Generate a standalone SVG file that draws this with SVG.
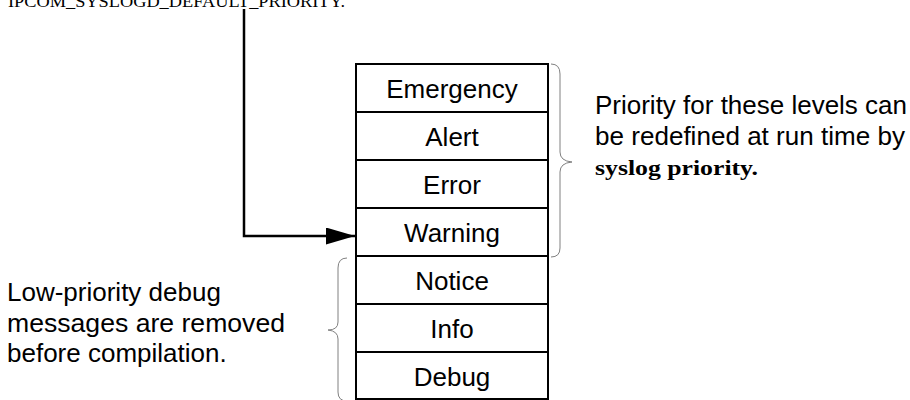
<svg xmlns="http://www.w3.org/2000/svg" width="910" height="400" viewBox="0 0 910 400">
  <defs>
    <style>
      .sans { font-family: "Liberation Sans", Arial, sans-serif; font-size: 26px; fill: #000; }
      .cell { text-anchor: middle; }
      .serif { font-family: "Liberation Serif", "Times New Roman", serif; fill: #000; }
      .box { fill: #fff; stroke: #000; stroke-width: 2; }
      .brace { fill: none; stroke: #808080; stroke-width: 1; }
      .conn { fill: none; stroke: #000; stroke-width: 2.5; }
    </style>
    <marker id="arrow" markerWidth="30" markerHeight="18" refX="29" refY="8.5" orient="auto" markerUnits="userSpaceOnUse">
      <path d="M0,0 L29,8.5 L0,17 Z" fill="#000"/>
    </marker>
  </defs>
  <rect width="910" height="400" fill="#fff"/>

  <g id="title">
    <text class="serif" x="8" y="7" font-size="17" textLength="337" lengthAdjust="spacingAndGlyphs">IPCOM_SYSLOGD_DEFAULT_PRIORITY.</text>
  </g>

  <g id="connectors">
    <path class="conn" d="M244,9 L244,236 L355,236" marker-end="url(#arrow)"/>
  </g>

  <g id="node-emergency">
    <rect class="box" x="356" y="64" width="192" height="48"/>
    <text class="sans cell" x="452" y="98">Emergency</text>
  </g>
  <g id="node-alert">
    <rect class="box" x="356" y="112" width="192" height="48"/>
    <text class="sans cell" x="452" y="146">Alert</text>
  </g>
  <g id="node-error">
    <rect class="box" x="356" y="160" width="192" height="48"/>
    <text class="sans cell" x="452" y="194">Error</text>
  </g>
  <g id="node-warning">
    <rect class="box" x="356" y="208" width="192" height="48"/>
    <text class="sans cell" x="452" y="242">Warning</text>
  </g>
  <g id="node-notice">
    <rect class="box" x="356" y="256" width="192" height="48"/>
    <text class="sans cell" x="452" y="290">Notice</text>
  </g>
  <g id="node-info">
    <rect class="box" x="356" y="304" width="192" height="48"/>
    <text class="sans cell" x="452" y="338">Info</text>
  </g>
  <g id="node-debug">
    <rect class="box" x="356" y="352" width="192" height="47"/>
    <text class="sans cell" x="452" y="386">Debug</text>
  </g>

  <g id="brace-right">
    <path class="brace" d="M551,64 Q560,64 560,74 L560,152 Q560,161 572,162 Q560,163 560,172 L560,248 Q560,257 551,257"/>
  </g>
  <g id="brace-left">
    <path class="brace" d="M347,258 Q338,258 338,268 L338,322 Q338,330 328,330 Q338,331 338,339 L338,392 Q338,401 347,401"/>
  </g>

  <g id="note-right">
    <text class="sans" x="595" y="114" textLength="312" lengthAdjust="spacingAndGlyphs">Priority for these levels can</text>
    <text class="sans" x="595" y="145" textLength="310" lengthAdjust="spacingAndGlyphs">be redefined at run time by</text>
    <text class="serif" x="595" y="175" font-size="21" font-weight="bold" textLength="163" lengthAdjust="spacingAndGlyphs">syslog priority.</text>
  </g>

  <g id="note-left">
    <text class="sans" x="7" y="301">Low-priority debug</text>
    <text class="sans" x="7" y="332" textLength="278" lengthAdjust="spacingAndGlyphs">messages are removed</text>
    <text class="sans" x="7" y="362">before compilation.</text>
  </g>
</svg>
